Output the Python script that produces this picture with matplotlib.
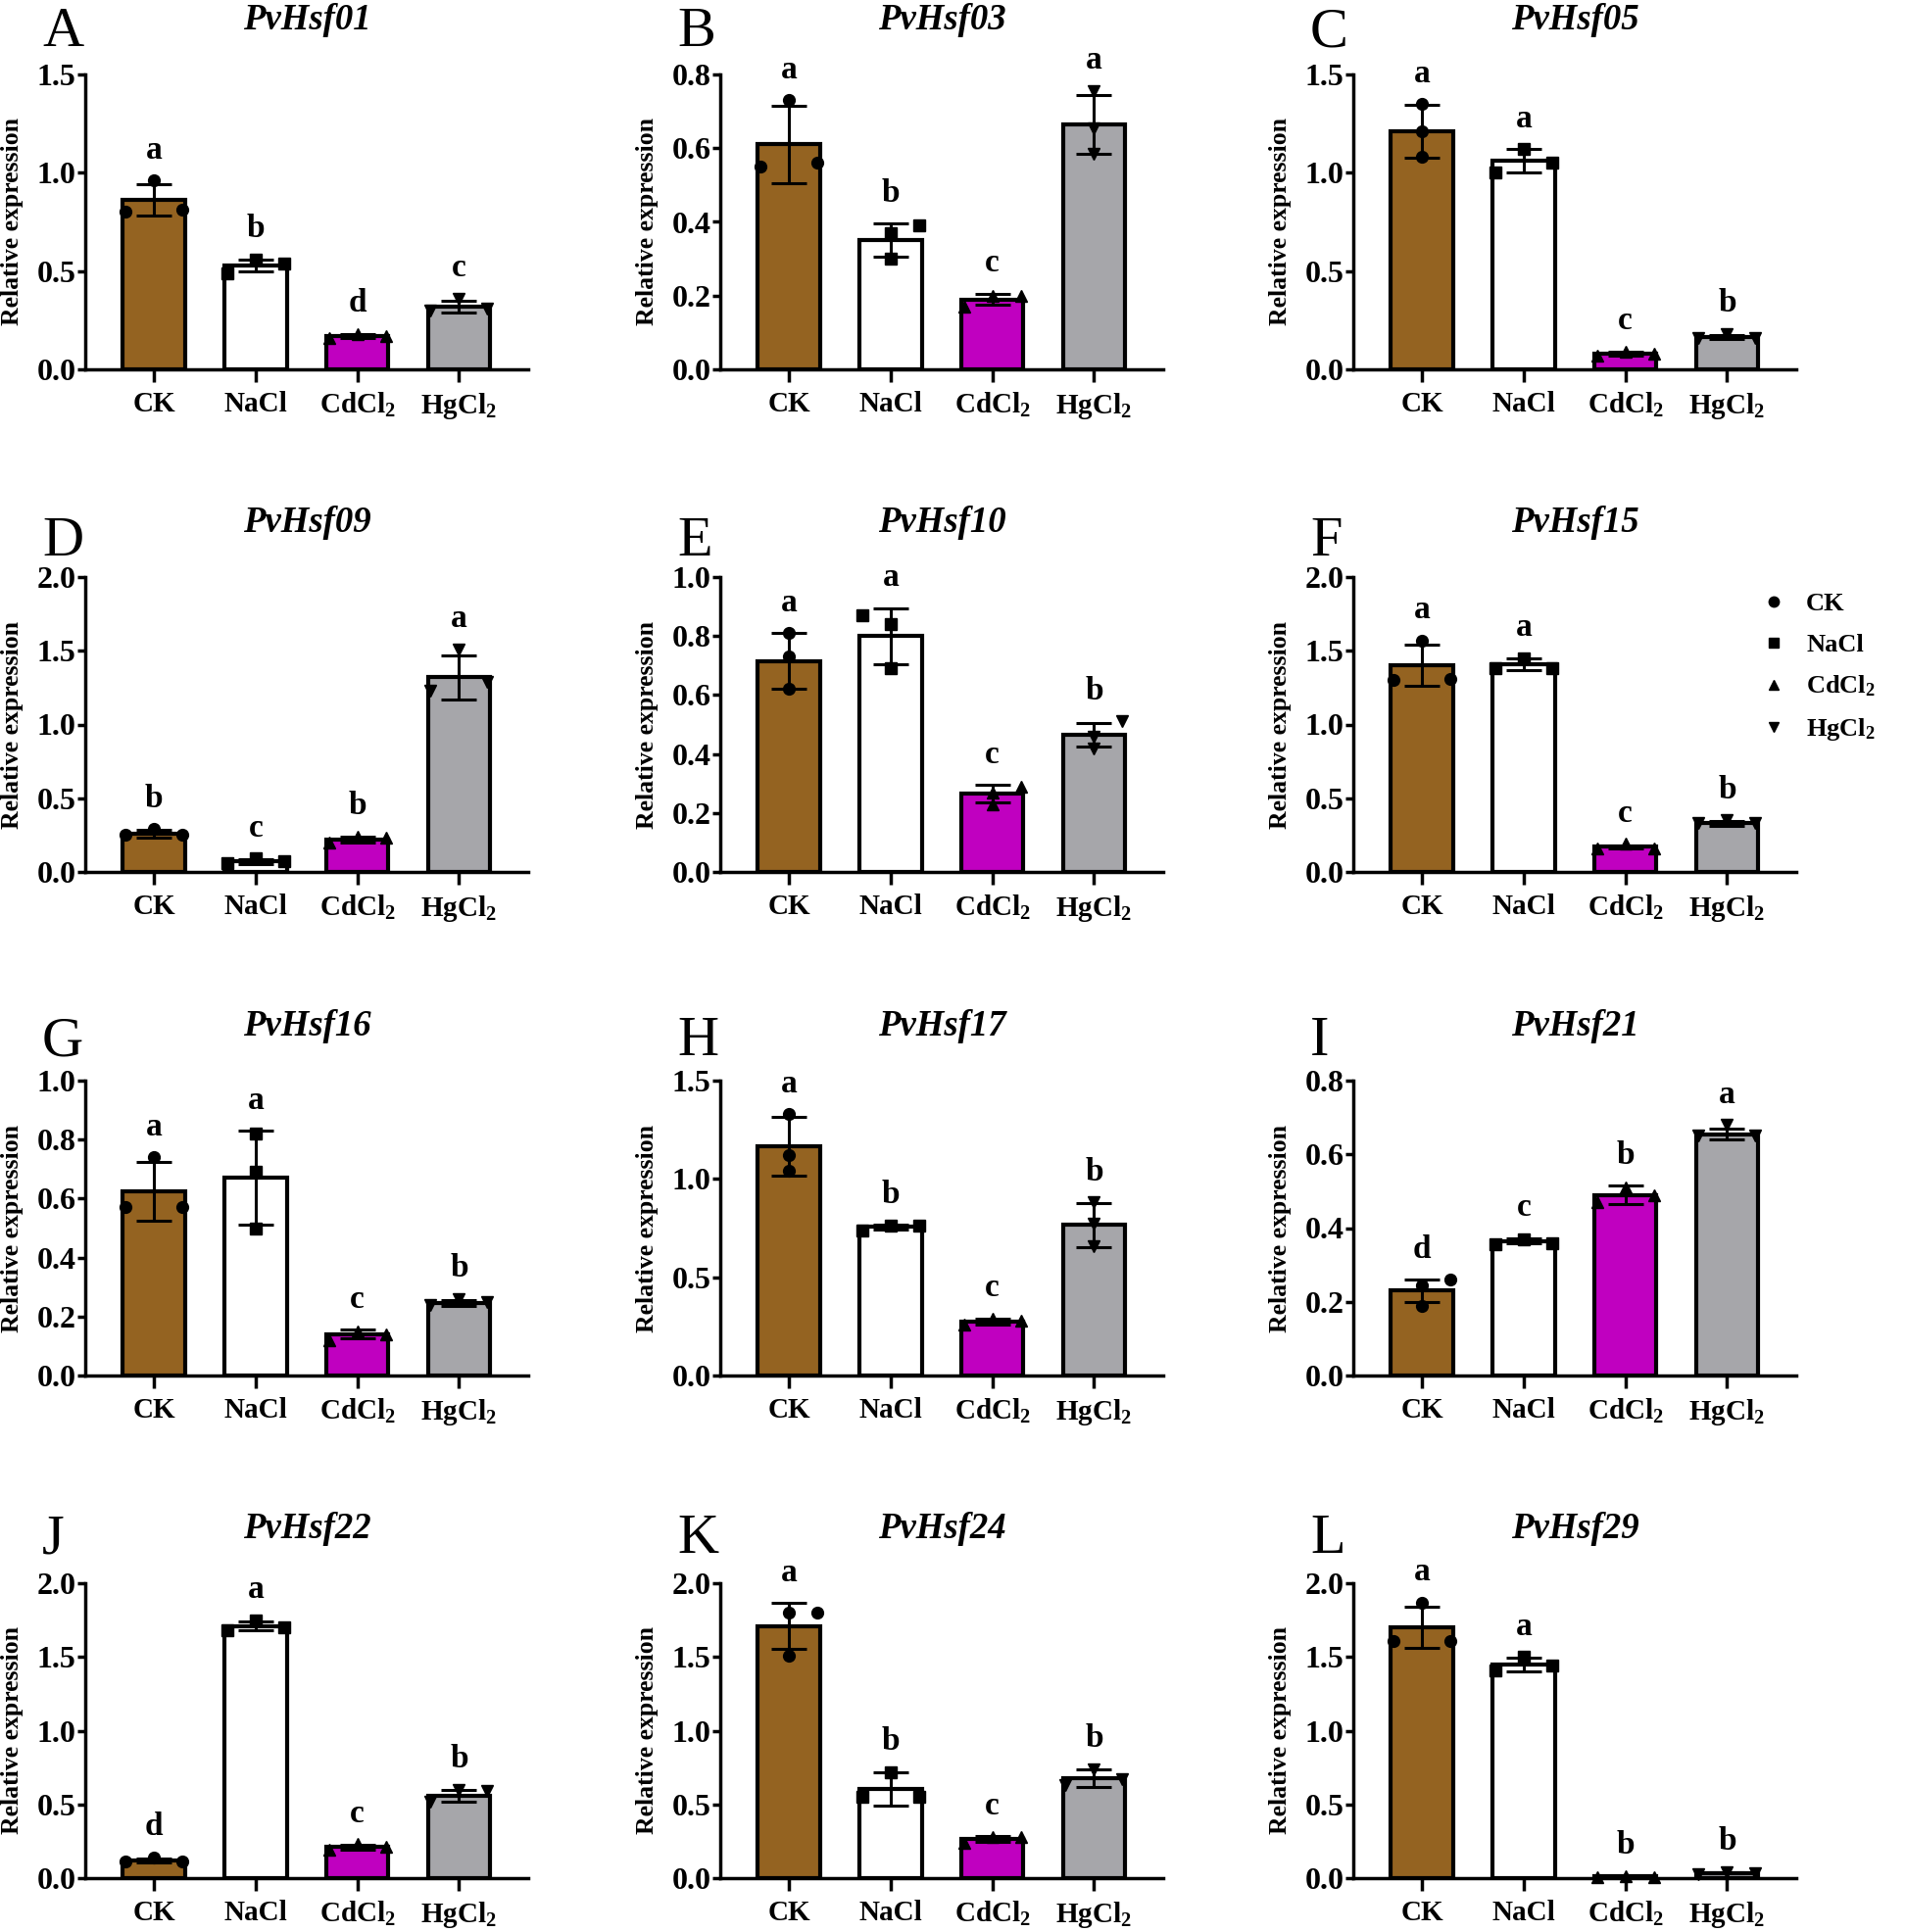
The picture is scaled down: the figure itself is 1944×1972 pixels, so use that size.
import numpy as np
import matplotlib
matplotlib.use('Agg')
import matplotlib.pyplot as plt
from matplotlib.lines import Line2D
from matplotlib.ticker import FormatStrFormatter, MultipleLocator

plt.rcParams['font.family'] = 'Liberation Serif'
plt.rcParams['font.weight'] = 'bold'
plt.rcParams['mathtext.fontset'] = 'custom'
plt.rcParams['mathtext.rm'] = 'Liberation Serif:bold'
plt.rcParams['mathtext.it'] = 'Liberation Serif:bold:italic'
plt.rcParams['mathtext.bf'] = 'Liberation Serif:bold'

# treatments
groups = ['CK', 'NaCl', 'CdCl$_2$', 'HgCl$_2$']
bar_colors = ['#946321', '#ffffff', '#c000c0', '#a6a6aa']
markers = ['o', 's', '^', 'v']

genes = ['PvHsf01', 'PvHsf03', 'PvHsf05', 'PvHsf09', 'PvHsf10', 'PvHsf15',
         'PvHsf16', 'PvHsf17', 'PvHsf21', 'PvHsf22', 'PvHsf24', 'PvHsf29']
tags = list('ABCDEFGHIJKL')
y_max = [1.5, 0.8, 1.5, 2.0, 1.0, 2.0, 1.0, 1.5, 0.8, 2.0, 2.0, 2.0]
y_step = [0.5, 0.2, 0.5, 0.5, 0.2, 0.5, 0.2, 0.5, 0.2, 0.5, 0.5, 0.5]

# mean relative expression (CK, NaCl, CdCl2, HgCl2)
means = [
    [0.86, 0.53, 0.17, 0.32],
    [0.61, 0.35, 0.19, 0.665],
    [1.21, 1.06, 0.08, 0.165],
    [0.26, 0.07, 0.22, 1.32],
    [0.715, 0.80, 0.265, 0.465],
    [1.40, 1.41, 0.17, 0.33],
    [0.625, 0.67, 0.14, 0.245],
    [1.165, 0.755, 0.275, 0.765],
    [0.23, 0.365, 0.49, 0.655],
    [0.12, 1.71, 0.21, 0.555],
    [1.71, 0.605, 0.265, 0.68],
    [1.70, 1.45, 0.01, 0.035],
]
sds = [
    [0.08, 0.03, 0.01, 0.03],
    [0.105, 0.045, 0.015, 0.08],
    [0.135, 0.06, 0.01, 0.01],
    [0.025, 0.015, 0.02, 0.15],
    [0.095, 0.095, 0.03, 0.04],
    [0.14, 0.04, 0.01, 0.015],
    [0.10, 0.16, 0.015, 0.01],
    [0.15, 0.01, 0.015, 0.11],
    [0.03, 0.007, 0.025, 0.015],
    [0.015, 0.03, 0.015, 0.04],
    [0.155, 0.11, 0.02, 0.06],
    [0.14, 0.045, 0.005, 0.005],
]
# three replicates per bar
reps = [
    [[0.80, 0.96, 0.81], [0.49, 0.56, 0.54], [0.16, 0.18, 0.17], [0.30, 0.36, 0.31]],
    [[0.55, 0.73, 0.56], [0.37, 0.30, 0.39], [0.17, 0.20, 0.20], [0.755, 0.655, 0.585]],
    [[1.35, 1.21, 1.08], [1.00, 1.12, 1.05], [0.07, 0.09, 0.08], [0.16, 0.18, 0.16]],
    [[0.25, 0.29, 0.25], [0.06, 0.09, 0.07], [0.20, 0.24, 0.23], [1.23, 1.51, 1.29]],
    [[0.81, 0.73, 0.62], [0.87, 0.84, 0.69], [0.27, 0.23, 0.29], [0.51, 0.46, 0.42]],
    [[1.30, 1.57, 1.31], [1.38, 1.45, 1.38], [0.16, 0.19, 0.16], [0.33, 0.35, 0.33]],
    [[0.57, 0.74, 0.57], [0.82, 0.69, 0.50], [0.12, 0.15, 0.14], [0.24, 0.26, 0.25]],
    [[1.33, 1.12, 1.04], [0.74, 0.76, 0.76], [0.26, 0.29, 0.28], [0.88, 0.77, 0.66]],
    [[0.245, 0.26, 0.19], [0.355, 0.37, 0.36], [0.47, 0.51, 0.49], [0.65, 0.68, 0.65]],
    [[0.11, 0.14, 0.11], [1.68, 1.75, 1.70], [0.19, 0.23, 0.21], [0.52, 0.60, 0.59]],
    [[1.80, 1.80, 1.51], [0.55, 0.72, 0.55], [0.24, 0.28, 0.28], [0.63, 0.74, 0.67]],
    [[1.61, 1.87, 1.61], [1.41, 1.50, 1.44], [0.005, 0.01, 0.005], [0.025, 0.04, 0.03]],
]
# where each replicate dot sits on the bar (Left / Centre / Right)
sides = [
    ['LCR', 'LCR', 'LCR', 'LCR'],
    ['LCR', 'CCR', 'LCR', 'CCC'],
    ['CCC', 'LCR', 'LCR', 'LCR'],
    ['LCR', 'LCR', 'LCR', 'LCR'],
    ['CCC', 'LCC', 'CCR', 'RCC'],
    ['LCR', 'LCR', 'LCR', 'LCR'],
    ['LCR', 'CCC', 'LCR', 'LCR'],
    ['CCC', 'LCR', 'LCR', 'CCC'],
    ['CRC', 'LCR', 'LCR', 'LCR'],
    ['LCR', 'LCR', 'LCR', 'LCR'],
    ['CRC', 'LCR', 'LCR', 'LCR'],
    ['LCR', 'LCR', 'LCR', 'LCR'],
]
letters = [
    ['a', 'b', 'd', 'c'], ['a', 'b', 'c', 'a'], ['a', 'a', 'c', 'b'],
    ['b', 'c', 'b', 'a'], ['a', 'a', 'c', 'b'], ['a', 'a', 'c', 'b'],
    ['a', 'a', 'c', 'b'], ['a', 'b', 'c', 'b'], ['d', 'c', 'b', 'a'],
    ['d', 'a', 'c', 'b'], ['a', 'b', 'c', 'b'], ['a', 'a', 'b', 'b'],
]

W, H = 1944, 1972
fig = plt.figure(figsize=(W / 100, H / 100), dpi=100)

col_left = [87, 735, 1381]          # pixel x of y-axis
row_zero = [377, 890, 1404, 1917]   # pixel y of x-axis
row_tag = [47, 567, 1077, 1585]     # baseline of panel letters
ax_w, ax_h = 452, 301
offs = {'L': -0.28, 'C': 0.0, 'R': 0.28}
x = np.arange(4)

for k in range(12):
    r, c = divmod(k, 3)
    ax = fig.add_axes([col_left[c] / W, 1 - row_zero[r] / H, ax_w / W, ax_h / H])
    ax.bar(x, means[k], width=0.61, color=bar_colors, edgecolor='black',
           linewidth=3, zorder=2)
    ax.errorbar(x, means[k], yerr=sds[k], fmt='none', ecolor='black',
                elinewidth=2.2, capsize=13, capthick=2.2, zorder=3)
    for i in range(4):
        xs = [i + offs[s] for s in sides[k][i]]
        ax.plot(xs, reps[k][i], linestyle='none', marker=markers[i],
                color='black', markersize=8.5, zorder=4, clip_on=False)
        top = max(means[k][i] + sds[k][i], max(reps[k][i]))
        ax.text(i, top + 0.075 * y_max[k], letters[k][i], ha='center',
                va='baseline', fontsize=24, fontweight='bold')

    ax.set_xlim(-0.675, 3.68)
    ax.set_ylim(0, y_max[k])
    ax.yaxis.set_major_locator(MultipleLocator(y_step[k]))
    ax.yaxis.set_major_formatter(FormatStrFormatter('%.1f'))
    ax.set_xticks(x)
    ax.set_xticklabels(groups)
    for sp in ['top', 'right']:
        ax.spines[sp].set_visible(False)
    for sp in ['left', 'bottom']:
        ax.spines[sp].set_linewidth(2.5)
    ax.tick_params(axis='y', length=6, width=2.5, pad=1, labelsize=23)
    ax.tick_params(axis='x', length=9, width=2.5, pad=7, labelsize=21)
    ax.set_ylabel('Relative expression', fontsize=18.5, fontweight='bold')
    ax.yaxis.set_label_coords(-0.14, 0.5)
    ax.set_title(genes[k], fontsize=26.5, fontweight='bold', style='italic', pad=33)

    fig.text((col_left[c] - 44) / W, 1 - row_tag[r] / H, tags[k],
             fontsize=42, fontweight='normal', ha='left', va='baseline')

handles = [Line2D([], [], linestyle='none', marker=m, color='black', markersize=7.5)
           for m in markers]
fig.legend(handles, groups, loc='upper left', bbox_to_anchor=(1797 / W, 1 - 605 / H),
           frameon=False, fontsize=19, handlelength=1.0, handletextpad=0.75,
           labelspacing=0.68, borderpad=0, borderaxespad=0)

fig.savefig('out.png', dpi=100)
